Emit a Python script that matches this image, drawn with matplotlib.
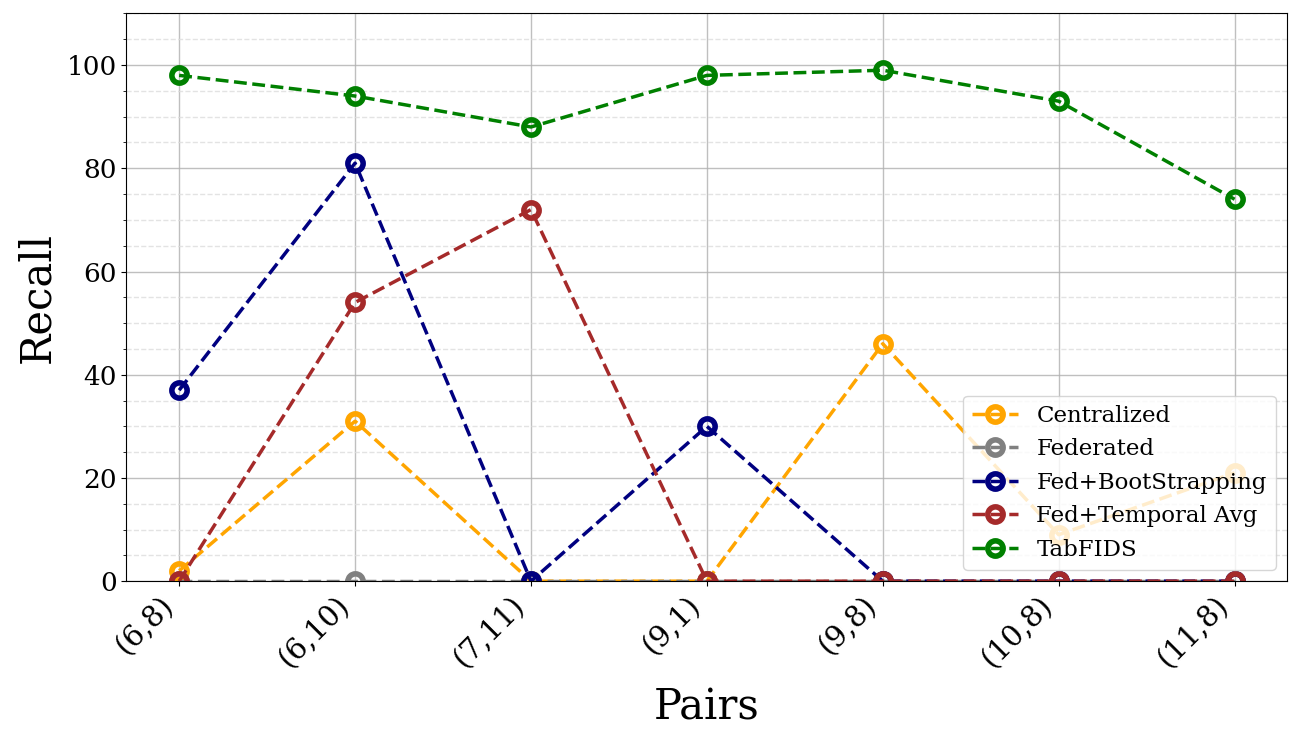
import matplotlib
matplotlib.use("Agg")
import matplotlib.pyplot as plt
from matplotlib.ticker import MultipleLocator

pairs = ["(6,8)", "(6,10)", "(7,11)", "(9,1)", "(9,8)", "(10,8)", "(11,8)"]
centralized = [2, 31, 0, 0, 46, 9, 21]
federated = [0, 0, 0, 0, 0, 0, 0]
fed_boot = [37, 81, 0, 30, 0, 0, 0]
fed_temporal = [0, 54, 72, 0, 0, 0, 0]
tabfids = [98, 94, 88, 98, 99, 93, 74]

series = [
    ("Centralized", centralized, "orange"),
    ("Federated", federated, "gray"),
    ("Fed+BootStrapping", fed_boot, "navy"),
    ("Fed+Temporal Avg", fed_temporal, "brown"),
    ("TabFIDS", tabfids, "green"),
]

plt.rcParams['font.family'] = ['DejaVu Serif']
fig, ax = plt.subplots(figsize=(13.03, 7.47), dpi=100)
x = list(range(len(pairs)))
for name, vals, col in series:
    ax.plot(x, vals, linestyle='--', color=col, linewidth=2.5, marker='o',
            markersize=11, markeredgewidth=4, markerfacecolor='none',
            markeredgecolor=col, label=name)

ax.set_ylim(0, 110)
ax.set_xlim(-0.3, 6.3)
ax.yaxis.set_major_locator(MultipleLocator(20))
ax.yaxis.set_minor_locator(MultipleLocator(5))
ax.grid(which='major', color='#b0b0b0', linewidth=1.0, alpha=0.8)
ax.grid(which='minor', axis='y', color='#dddddd', linestyle='--', linewidth=1.0, alpha=0.8)
ax.set_axisbelow(True)
ax.set_xticks(x)
ax.set_xticklabels(pairs, rotation=45, ha='right', fontsize=21)
ax.tick_params(axis='y', labelsize=19)
ax.set_xlabel("Pairs", fontsize=30, labelpad=10)
ax.set_ylabel("Recall", fontsize=30, labelpad=6)
ax.legend(loc='lower right', fontsize=16.5, framealpha=0.8)
fig.subplots_adjust(left=0.097, right=0.988, top=0.982, bottom=0.222)
fig.savefig("out.png", dpi=100)
